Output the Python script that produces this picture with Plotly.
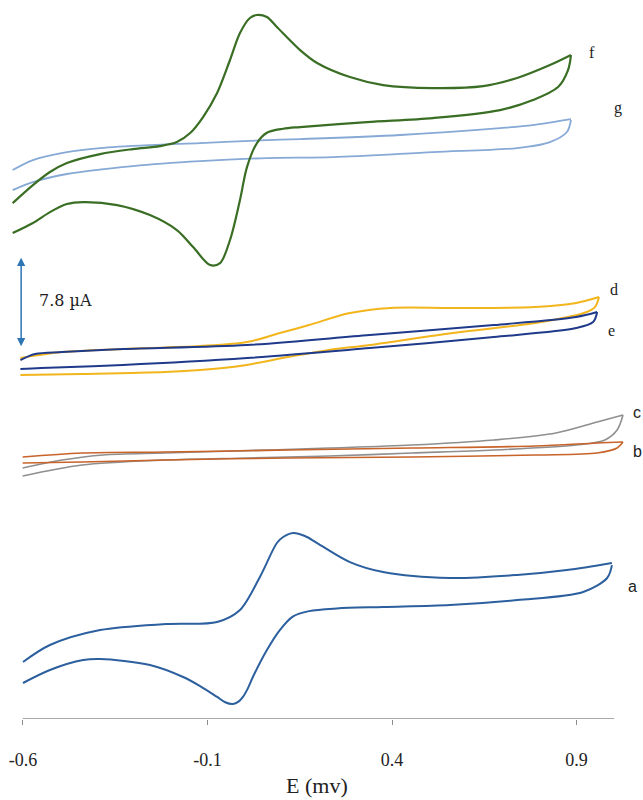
import plotly.graph_objects as go

# Cyclic voltammograms a-g, potential E (V) and current (uA), curves stacked vertically.
# Each curve: forward branch (left -> switching potential) and reverse branch (back to start).

a_E_fwd = [-0.600, -0.527, -0.391, -0.210, -0.074, -0.012, 0.042, 0.088, 0.105, 0.132, 0.164, 0.197, 0.286, 0.376, 0.557, 0.739, 0.874, 0.996]
a_I_fwd = [4.94, 6.41, 7.71, 8.23, 8.41, 9.45, 12.31, 15.25, 15.77, 16.12, 15.86, 15.25, 13.60, 12.74, 12.22, 12.48, 12.91, 13.52]
a_E_rev = [0.996, 0.983, 0.918, 0.739, 0.557, 0.376, 0.250, 0.175, 0.132, 0.096, 0.061, 0.023, 0.010, -0.004, -0.016, -0.031, -0.052, -0.074, -0.120, -0.166, -0.256, -0.391, -0.437, -0.527, -0.600]
a_I_rev = [13.34, 12.22, 11.01, 10.31, 9.88, 9.71, 9.58, 9.35, 8.90, 7.71, 5.98, 3.64, 2.70, 1.91, 1.50, 1.30, 1.45, 1.91, 2.85, 3.64, 4.68, 5.20, 5.11, 4.25, 3.12]

b_E_fwd = [-0.601, -0.440, -0.215, 0.118, 0.454, 0.788, 0.956, 1.026]
b_I_fwd = [22.70, 23.05, 23.14, 23.31, 23.48, 23.66, 23.92, 24.00]
b_E_rev = [1.026, 1.010, 0.956, 0.788, 0.454, 0.118, -0.215, -0.440, -0.601]
b_I_rev = [24.00, 23.48, 23.05, 22.88, 22.70, 22.62, 22.44, 22.27, 22.18]

c_E_fwd = [-0.601, -0.494, -0.383, -0.215, 0.061, 0.229, 0.454, 0.676, 0.844, 0.956, 1.026]
c_I_fwd = [21.75, 22.44, 22.88, 23.05, 23.31, 23.48, 23.74, 24.18, 24.78, 25.74, 26.34]
c_E_rev = [1.026, 1.010, 0.977, 0.899, 0.676, 0.454, 0.229, 0.007, -0.215, -0.440, -0.601]
c_I_rev = [26.34, 25.04, 24.18, 23.74, 23.31, 23.05, 22.79, 22.62, 22.44, 22.01, 21.06]

d_E_fwd = [-0.607, -0.494, -0.329, -0.120, 0.007, 0.096, 0.175, 0.286, 0.397, 0.565, 0.788, 0.899, 0.961]
d_I_fwd = [31.28, 31.80, 32.06, 32.32, 32.67, 33.45, 34.14, 35.18, 35.62, 35.62, 35.70, 36.05, 36.57]
d_E_rev = [0.961, 0.950, 0.920, 0.788, 0.565, 0.340, 0.229, 0.118, -0.012, -0.120, -0.215, -0.440, -0.607]
d_I_rev = [36.57, 35.70, 35.18, 34.32, 33.45, 32.41, 31.98, 31.37, 30.59, 30.24, 30.07, 29.90, 29.81]

e_E_fwd = [-0.607, -0.567, -0.494, -0.329, 0.007, 0.340, 0.676, 0.899, 0.956]
e_I_fwd = [31.11, 31.63, 31.80, 32.06, 32.41, 33.28, 34.14, 34.84, 35.27]
e_E_rev = [0.956, 0.945, 0.899, 0.676, 0.340, 0.007, -0.329, -0.551, -0.607]
e_I_rev = [35.27, 34.40, 33.88, 33.10, 32.15, 31.28, 30.68, 30.42, 30.33]

f_E_fwd = [-0.628, -0.573, -0.527, -0.481, -0.391, -0.302, -0.229, -0.183, -0.147, -0.112, -0.074, -0.039, -0.012,
           0.015, 0.034, 0.061, 0.088, 0.151, 0.197, 0.286, 0.376, 0.511, 0.647, 0.739, 0.828, 0.885]
f_I_fwd = [44.71, 46.27, 47.40, 48.18, 48.96, 49.39, 49.65, 50.00, 50.78, 52.17, 54.25, 57.11, 59.45,
           60.75, 61.01, 60.83, 59.97, 57.97, 56.85, 55.63, 54.94, 54.68, 54.85, 55.55, 56.67, 57.54]
f_E_rev = [0.885, 0.877, 0.850, 0.782, 0.693, 0.511, 0.332, 0.151, 0.105, 0.061, 0.034, 0.007, -0.012, -0.039,
           -0.066, -0.093, -0.139, -0.183, -0.256, -0.345, -0.437, -0.481, -0.527, -0.573, -0.628]
f_I_rev = [57.54, 56.24, 54.77, 53.64, 52.77, 52.08, 51.73, 51.30, 51.15, 50.80, 49.91, 47.83, 44.97, 41.51,
           39.51, 39.34, 40.90, 42.37, 43.67, 44.54, 44.80, 44.63, 43.93, 42.98, 42.11]

g_E_fwd = [-0.628, -0.573, -0.481, -0.391, -0.256, -0.120, 0.061, 0.151, 0.422, 0.693, 0.782, 0.885]
g_I_fwd = [47.57, 48.44, 49.13, 49.48, 49.74, 49.91, 50.17, 50.26, 50.61, 51.21, 51.47, 51.99]
g_E_rev = [0.885, 0.874, 0.828, 0.739, 0.511, 0.240, 0.061, -0.120, -0.302, -0.481, -0.573, -0.628]
g_I_rev = [51.91, 50.87, 50.00, 49.48, 49.13, 48.70, 48.61, 48.35, 47.92, 47.23, 46.53, 45.84]

# curve labels: text, potential, current
label_text = ["a", "b", "c", "d", "e", "f", "g"]
label_E = [1.053, 1.064, 1.064, 1.002, 0.996, 0.942, 1.012]
label_I = [11.44, 23.14, 26.52, 37.18, 33.71, 57.80, 52.95]

# current scale bar
scale_uA = 7.8
scale_E = -0.605
scale_I0 = 32.3

tick_vals = [-0.6, -0.1, 0.4, 0.9]
tick_text = ["-0.6", "-0.1", "0.4", "0.9"]

fig = go.Figure()


def add_cv(E_f, I_f, E_r, I_r, color, width=2.0):
    for xs, ys in ((E_f, I_f), (E_r, I_r)):
        fig.add_trace(go.Scatter(
            x=xs, y=ys, mode="lines",
            line=dict(color=color, width=width, shape="spline", smoothing=0.9),
            hoverinfo="skip", showlegend=False,
        ))


add_cv(g_E_fwd, g_I_fwd, g_E_rev, g_I_rev, "#86a9d6", 1.8)
add_cv(f_E_fwd, f_I_fwd, f_E_rev, f_I_rev, "#3a6e24", 2.2)
add_cv(d_E_fwd, d_I_fwd, d_E_rev, d_I_rev, "#f2b51c", 2.0)
add_cv(e_E_fwd, e_I_fwd, e_E_rev, e_I_rev, "#1f3a8a", 2.0)
add_cv(c_E_fwd, c_I_fwd, c_E_rev, c_I_rev, "#8f8f8f", 1.6)
add_cv(b_E_fwd, b_I_fwd, b_E_rev, b_I_rev, "#c8632a", 1.6)
add_cv(a_E_fwd, a_I_fwd, a_E_rev, a_I_rev, "#2c5f9e", 2.0)

annotations = []
for t, x, y in zip(label_text, label_E, label_I):
    fam = "Liberation Sans" if t in ("a", "b", "c") else "Liberation Serif"
    annotations.append(dict(
        x=x, y=y, xref="x", yref="y", text=t, showarrow=False,
        font=dict(family=fam, size=16, color="#222222"),
    ))

# double-headed scale bar and its label
annotations.append(dict(
    x=scale_E, y=scale_I0, ax=scale_E, ay=scale_I0 + scale_uA,
    xref="x", yref="y", axref="x", ayref="y", text="",
    showarrow=True, arrowside="end+start", arrowhead=2, arrowsize=1.1,
    arrowwidth=1.5, arrowcolor="#2e75b6", standoff=0, startstandoff=0,
))
annotations.append(dict(
    x=-0.562, y=scale_I0 + scale_uA / 2 + 0.1, xref="x", yref="y",
    text=f"{scale_uA} \u00b5A", showarrow=False, xanchor="left",
    font=dict(family="DejaVu Serif", size=16, color="#222222"),
))
annotations.append(dict(
    x=0.197, y=-0.092, xref="x", yref="paper", text="E (mv)",
    showarrow=False, yanchor="middle",
    font=dict(family="Liberation Serif", size=22, color="#222222"),
))

fig.update_layout(
    width=643, height=800,
    margin=dict(l=0, r=0, t=0, b=81),
    paper_bgcolor="white", plot_bgcolor="white",
    annotations=annotations,
    shapes=[dict(
        type="line", xref="x", yref="y", x0=-0.601, x1=1.002, y0=0, y1=0,
        line=dict(color="#8c8c8c", width=1.5), layer="below",
    )],
    xaxis=dict(
        range=[-0.6623, 1.0802], showgrid=False, zeroline=False, showline=False,
        tickmode="array", tickvals=tick_vals, ticktext=tick_text,
        ticks="outside", ticklen=5, tickwidth=1.3, tickcolor="#8c8c8c",
        ticklabelstandoff=19,
        tickfont=dict(family="Liberation Serif", size=18, color="#222222"),
    ),
    yaxis=dict(range=[0, 62.31], visible=False),
)

fig.write_html("out.html")
